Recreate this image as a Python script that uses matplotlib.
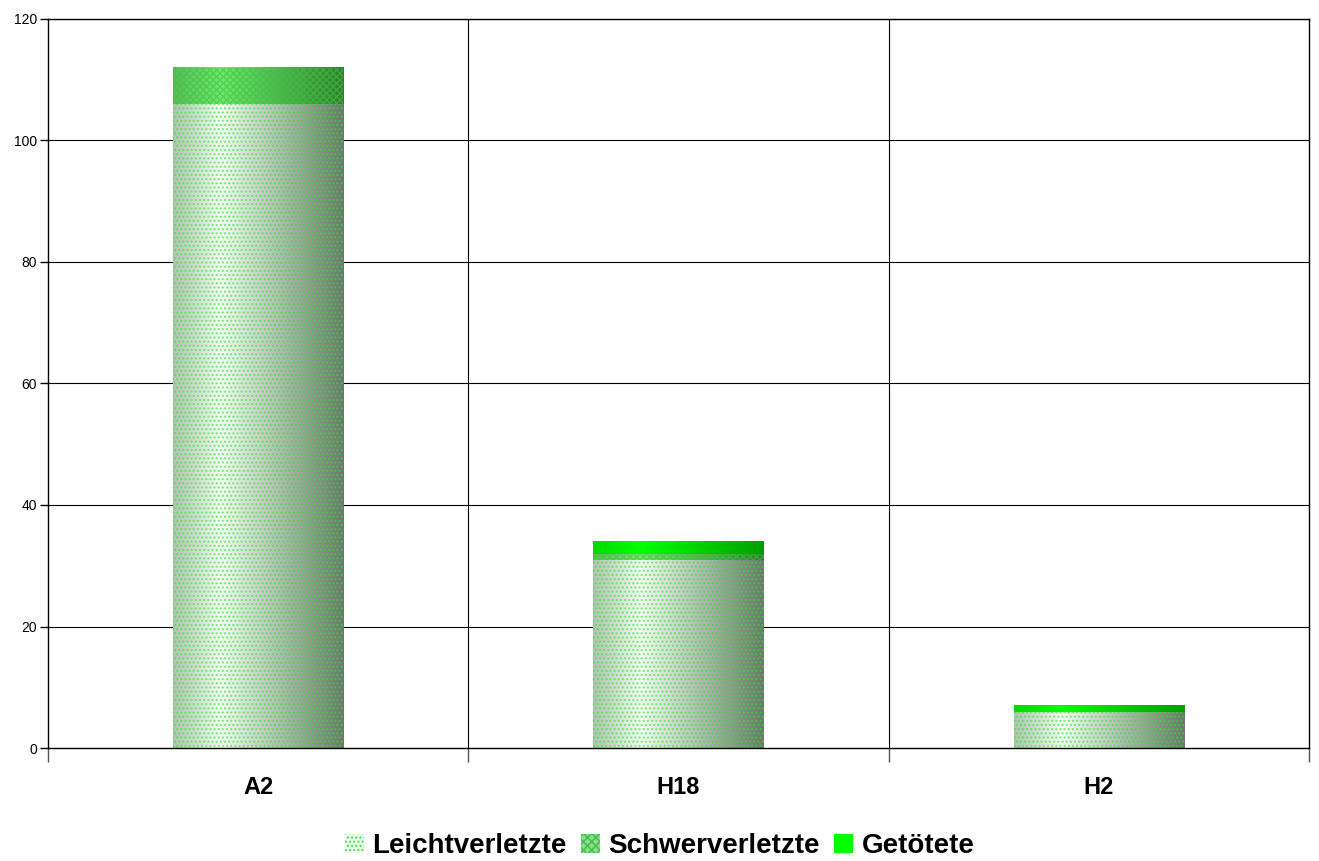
import numpy as np
import matplotlib
matplotlib.use("Agg")
import matplotlib.pyplot as plt
from matplotlib.patches import Patch

plt.rcParams['font.family'] = ['Liberation Sans', 'DejaVu Sans']

categories = ["A2", "H18", "H2"]
leicht = [106, 31, 6]
schwer = [6, 1, 0]
getoetet = [0, 2, 1]
series_names = ["Leichtverletzte", "Schwerverletzte", "Getötete"]
yticks = [0, 20, 40, 60, 80, 100, 120]

fig = plt.figure(figsize=(13.19, 8.61), dpi=100)
ax = fig.add_axes([48/1319, 1-748/861, (1309-48)/1319, (748-19)/861])

x = np.arange(len(categories))
width = 0.405

# shading profiles (cylinder look): left -> right
def ramp(c_left, c_peak, c_right, n=200, peak=0.28):
    t = np.linspace(0, 1, n)
    cl, cp, cr = map(np.array, (c_left, c_peak, c_right))
    out = np.zeros((n, 3))
    for i, ti in enumerate(t):
        if ti < peak:
            f = ti / peak
            out[i] = cl + (cp - cl) * f
        else:
            f = (ti - peak) / (1 - peak)
            out[i] = cp + (cr - cp) * f
    return out[None, :, :]

grad_leicht = ramp((0.70, 0.76, 0.70), (0.96, 0.98, 0.96), (0.42, 0.47, 0.42))
grad_schwer = ramp((0.38, 0.72, 0.38), (0.45, 0.90, 0.45), (0.20, 0.48, 0.20))
grad_tot = ramp((0.0, 0.85, 0.0), (0.0, 1.0, 0.0), (0.0, 0.62, 0.0))

grads = [grad_leicht, grad_schwer, grad_tot]
hatches = ['....', 'xxxxx', None]
hatch_cols = ['#22ee22', '#33cc33', None]
data = [leicht, schwer, getoetet]

plt.rcParams['hatch.linewidth'] = 1.0
bottom = np.zeros(len(categories))
for vals, g, h, hc in zip(data, grads, hatches, hatch_cols):
    vals = np.array(vals, dtype=float)
    bars = ax.bar(x, vals, width, bottom=bottom, facecolor='none', edgecolor='none', zorder=3)
    for b, v in zip(bars, vals):
        if v <= 0:
            continue
        x0, y0 = b.get_x(), b.get_y()
        ax.imshow(g, extent=[x0, x0 + b.get_width(), y0, y0 + b.get_height()],
                  aspect='auto', zorder=2.5, interpolation='bilinear')
        if h:
            ax.bar(b.get_x() + b.get_width()/2, v, b.get_width(), bottom=y0,
                   facecolor='none', edgecolor=hc, hatch=h, linewidth=0, zorder=3, alpha=0.6)
    bottom += vals

ax.set_xlim(-0.5, len(categories) - 0.5)
ax.set_ylim(0, 120)
ax.set_yticks(yticks)
ax.set_yticklabels([str(t) for t in yticks], fontsize=10)
ax.set_xticks(x)
ax.set_xticklabels(categories, fontsize=17, fontweight='bold')
ax.tick_params(axis='x', length=0, pad=20)
ax.tick_params(axis='y', length=6, width=1, pad=2)

# category boundary ticks and gridlines
bounds = np.arange(len(categories) + 1) - 0.5
ax.set_xticks(bounds, minor=True)
ax.tick_params(axis='x', which='minor', length=10, width=1, color='#555555')
for b in bounds[1:-1]:
    ax.axvline(b, color='black', linewidth=0.8, zorder=1)
for t in yticks[1:]:
    ax.axhline(t, color='black', linewidth=0.8, zorder=1)

for s in ax.spines.values():
    s.set_linewidth(1.0)
    s.set_color('black')

handles = [Patch(facecolor='#f0f8f0', edgecolor='#33ee33', hatch='....', linewidth=0),
           Patch(facecolor='#88dd88', edgecolor='#44bb44', hatch='xxxx', linewidth=0),
           Patch(facecolor='#00ff00', edgecolor='none')]
leg = fig.legend(handles, series_names, loc='center', bbox_to_anchor=(0.5, 1-846/861),
                 ncol=3, frameon=False, prop={'size': 20, 'weight': 'bold'},
                 handlelength=0.7, handleheight=0.7, handletextpad=0.3, columnspacing=0.5)

fig.savefig("out.png", dpi=100)
